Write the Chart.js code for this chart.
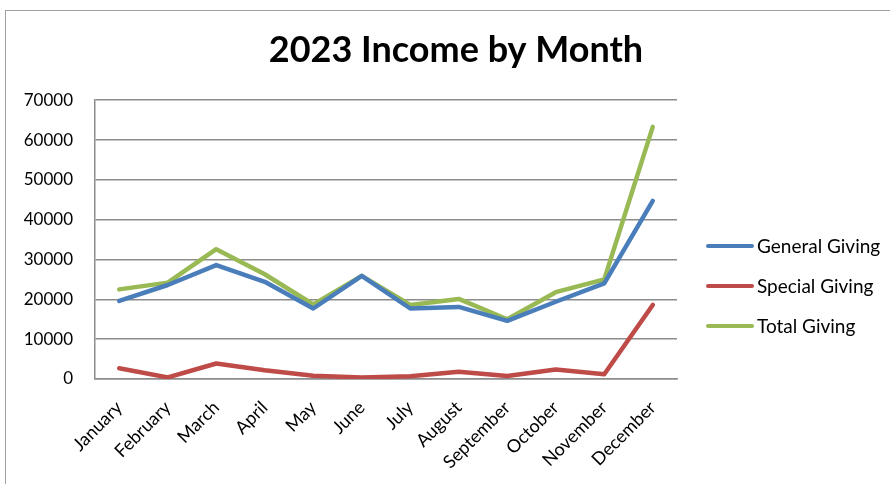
<!DOCTYPE html>
<html>
<head>
<meta charset="utf-8">
<script src="https://cdn.jsdelivr.net/npm/chart.js@4.4.1/dist/chart.umd.min.js"></script>
<style>
  html, body { margin: 0; padding: 0; background: #fff; }
  #wrap { position: relative; width: 890px; height: 484px; overflow: hidden; }
  #frame { position: absolute; left: 5px; top: 10px; width: 900px; height: 500px; border: 1px solid #a0a0a0; }
  canvas { position: absolute; left: 0; top: 0; }
</style>
</head>
<body>
<div id="wrap">
  <div id="frame"></div>
  <canvas id="chart" width="890" height="484"></canvas>
</div>
<script>
// data
const months = ['January', 'February', 'March', 'April', 'May', 'June',
  'July', 'August', 'September', 'October', 'November', 'December'];
const generalGiving = [19600, 23600, 28600, 24400, 17700, 25900, 17700, 18100, 14600, 19400, 24000, 44700];
const specialGiving = [2700, 400, 3900, 2200, 800, 400, 700, 1800, 750, 2400, 1200, 18600];
const totalGiving = [22500, 24200, 32600, 26300, 18700, 25900, 18600, 20100, 15000, 21800, 25000, 63300];
const yTicks = [0, 10000, 20000, 30000, 40000, 50000, 60000, 70000];

const FONT = 'Lato, "Open Sans", sans-serif';

// legend drawn on the right, like the Excel original
const sideLegend = {
  id: 'sideLegend',
  afterDraw(chart) {
    const ctx = chart.ctx;
    const x0 = 708, lineW = 44, firstY = 246, gap = 40;
    ctx.save();
    ctx.font = '19px ' + FONT;
    ctx.textBaseline = 'middle';
    ctx.textAlign = 'left';
    chart.data.datasets.forEach((ds, i) => {
      const y = firstY + i * gap;
      ctx.strokeStyle = ds.borderColor;
      ctx.lineWidth = 4;
      ctx.lineCap = 'round';
      ctx.beginPath();
      ctx.moveTo(x0, y);
      ctx.lineTo(x0 + lineW, y);
      ctx.stroke();
      ctx.fillStyle = '#000';
      ctx.fillText(ds.label, x0 + lineW + 5, y + 1);
    });
    ctx.restore();
  }
};

new Chart(document.getElementById('chart'), {
  type: 'line',
  data: {
    labels: months,
    datasets: [
      { label: 'General Giving', data: generalGiving, borderColor: '#4a7ebb' },
      { label: 'Special Giving', data: specialGiving, borderColor: '#be4b48' },
      { label: 'Total Giving', data: totalGiving, borderColor: '#98b954' }
    ]
  },
  options: {
    responsive: false,
    animation: false,
    layout: { padding: { left: 22, right: 0, top: 0, bottom: 0 } },
    elements: {
      line: { borderWidth: 4.5, tension: 0, borderJoinStyle: 'round', borderCapStyle: 'round' },
      point: { radius: 0 }
    },
    plugins: {
      legend: { display: false },
      tooltip: { enabled: false },
      title: {
        display: true,
        text: '2023 Income by Month',
        color: '#000',
        font: { family: FONT, size: 36, weight: 'bold' },
        padding: { top: 29, bottom: 28 }
      }
    },
    scales: {
      x: {
        offset: true,
        grid: { display: false, drawTicks: false },
        border: { display: true, color: '#8c8c8c', width: 1.5 },
        ticks: {
          color: '#000',
          font: { family: FONT, size: 18 },
          maxRotation: 45,
          minRotation: 45,
          padding: 18,
          autoSkip: false
        },
        afterFit(scale) { scale.height = 105; }
      },
      y: {
        min: 0,
        max: 70000,
        afterBuildTicks(scale) { scale.ticks = yTicks.map(v => ({ value: v })); },
        grid: { color: '#8c8c8c', lineWidth: 1.5, drawTicks: false },
        border: { display: true, color: '#8c8c8c', width: 1.5 },
        ticks: {
          color: '#000',
          font: { family: FONT, size: 17 },
          padding: 22,
          callback: (v) => String(v)
        },
        afterFit(scale) { scale.width = 73; }
      },
      // empty scale that keeps room on the right for the legend
      yRight: {
        position: 'right',
        display: true,
        grid: { display: false, drawTicks: false },
        border: { display: false },
        ticks: { display: false },
        afterFit(scale) { scale.width = 213; }
      }
    }
  },
  plugins: [sideLegend]
});
</script>
</body>
</html>
